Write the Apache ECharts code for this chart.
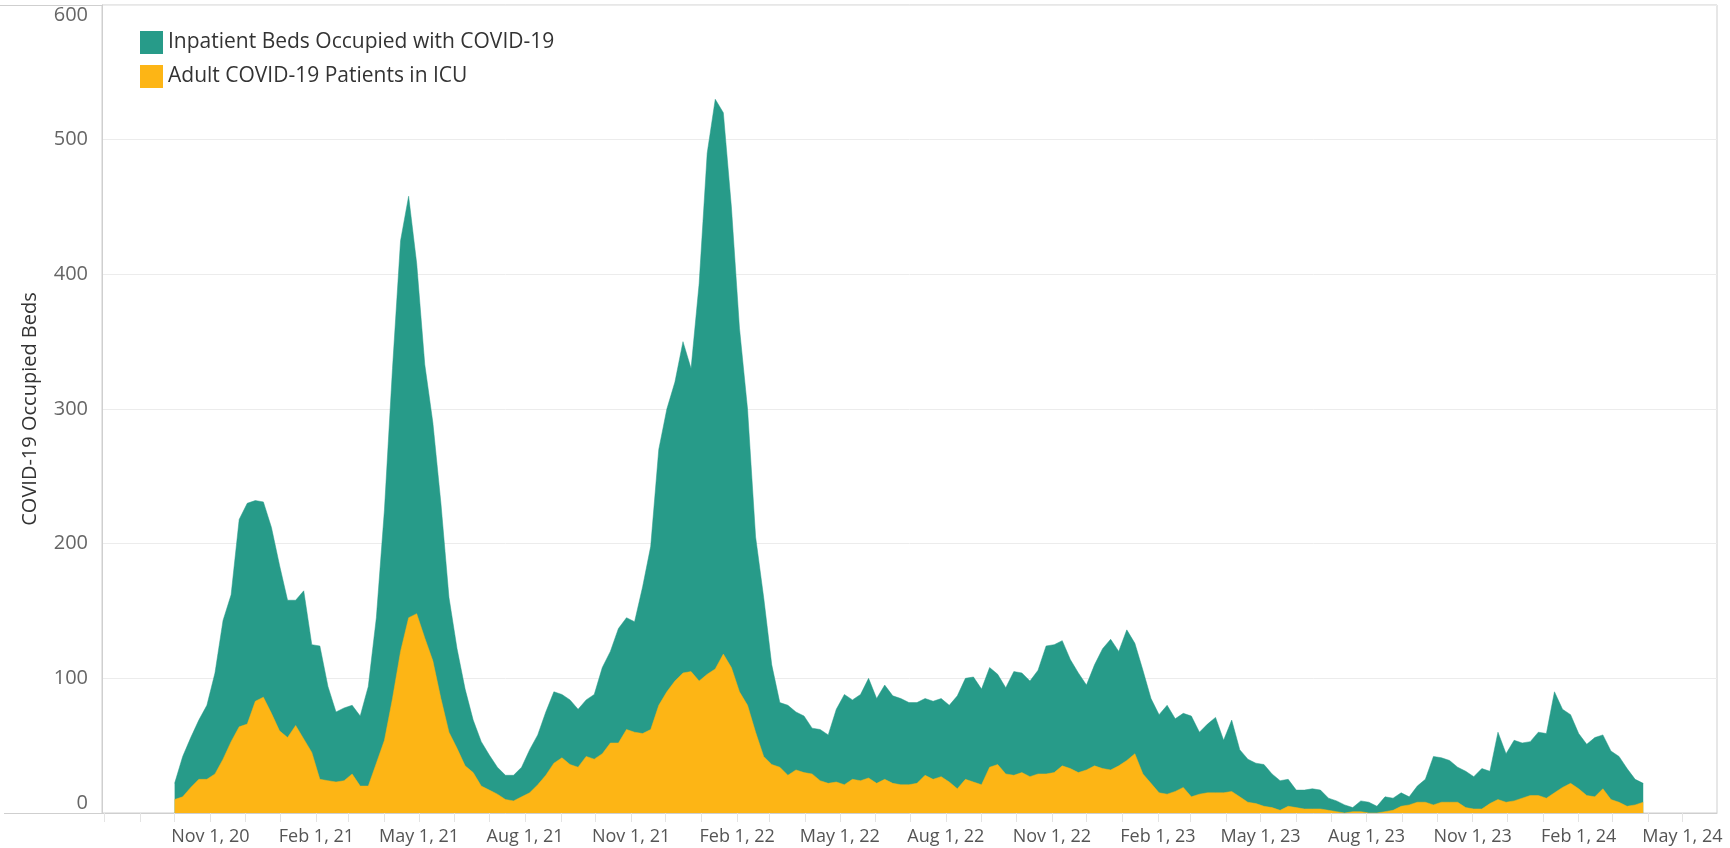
<!DOCTYPE html>
<html>
<head>
<meta charset="utf-8">
<title>COVID-19 Occupied Beds</title>
<script src="https://cdn.jsdelivr.net/npm/echarts@6/dist/echarts.min.js"></script>
<style>
  html, body { margin: 0; padding: 0; background: #fff; }
  #chart { width: 1730px; height: 848px; }
</style>
</head>
<body>
<div id="chart"></div>
<script>
// weekly readings, first one on Oct 1, 2020
var startDate = [2020, 9, 1];
var stepDays = 7;

var seriesNames = ['Inpatient Beds Occupied with COVID-19', 'Adult COVID-19 Patients in ICU'];

var inpatientBeds = [
    22, 42, 56, 69, 80, 104, 143, 162, 218, 230, 232, 231, 212, 184, 158, 158, 165, 125, 124, 94,
    75, 78, 80, 72, 94, 145, 225, 330, 425, 458, 408, 333, 290, 230, 160, 122, 92, 69, 53, 43,
    34, 28, 28, 34, 47, 58, 75, 90, 88, 84, 77, 84, 88, 108, 120, 137, 145, 142, 168, 198,
    270, 300, 320, 350, 330, 393, 490, 530, 520, 450, 360, 300, 205, 160, 110, 82, 80, 75, 72, 63,
    62, 58, 77, 88, 84, 88, 100, 85, 95, 87, 85, 82, 82, 85, 83, 85, 80, 87, 100, 101,
    92, 108, 103, 93, 105, 104, 98, 106, 124, 125, 128, 114, 104, 95, 110, 122, 129, 120, 136, 126,
    106, 85, 73, 80, 70, 74, 72, 60, 66, 71, 54, 69, 47, 40, 37, 36, 29, 24, 25, 17,
    17, 18, 17, 11, 9, 6, 4, 9, 8, 5, 12, 11, 15, 12, 20, 25, 42, 41, 39, 34,
    31, 27, 33, 31, 60, 44, 54, 52, 53, 60, 59, 90, 77, 73, 59, 51, 56, 58, 46, 42,
    33, 25, 22
];

var icuPatients = [
    10, 12, 19, 25, 25, 29, 40, 53, 64, 66, 83, 86, 74, 61, 56, 65, 55, 45, 25, 24,
    23, 24, 29, 20, 20, 37, 54, 85, 120, 145, 148, 130, 113, 85, 60, 48, 35, 30, 20, 17,
    14, 10, 9, 12, 15, 21, 28, 37, 41, 36, 34, 42, 40, 44, 52, 52, 62, 60, 59, 62,
    80, 90, 98, 104, 105, 98, 103, 107, 118, 108, 90, 80, 60, 42, 36, 34, 28, 32, 30, 29,
    24, 22, 23, 21, 25, 24, 26, 22, 25, 22, 21, 21, 22, 28, 25, 27, 23, 18, 25, 23,
    21, 34, 36, 29, 28, 30, 27, 29, 29, 30, 35, 33, 30, 32, 35, 33, 32, 35, 39, 44,
    29, 22, 15, 14, 16, 19, 12, 14, 15, 15, 15, 16, 12, 8, 7, 5, 4, 2, 5, 4,
    3, 3, 3, 2, 1, 0, 1, 1, 0, 0, 1, 2, 5, 6, 8, 8, 6, 8, 8, 8,
    4, 3, 3, 7, 10, 8, 9, 11, 13, 13, 11, 15, 19, 22, 18, 13, 12, 18, 10, 8,
    5, 6, 8
];

var monthNames = ['Jan', 'Feb', 'Mar', 'Apr', 'May', 'Jun', 'Jul', 'Aug', 'Sep', 'Oct', 'Nov', 'Dec'];
var firstLabel = new Date(2020, 10, 1).getTime();

function toPoints(values) {
    return values.map(function (v, i) {
        var d = new Date(startDate[0], startDate[1], startDate[2] + i * stepDays);
        return [d.getTime(), v];
    });
}

var green = '#279B89';
var yellow = '#FDB515';
var font = '"Open Sans", "DejaVu Sans", sans-serif';

var option = {
    animation: false,
    textStyle: { fontFamily: font },
    color: [green, yellow],
    grid: {
        left: 102,
        right: 13,
        top: 5,
        bottom: 35,
        show: true,
        borderColor: '#cfcfcf',
        borderWidth: 1
    },
    legend: {
        orient: 'vertical',
        left: 140,
        top: 31,
        padding: 0,
        icon: 'rect',
        itemWidth: 23,
        itemHeight: 23,
        itemGap: 11,
        selectedMode: false,
        textStyle: { fontSize: 21, color: '#333', fontFamily: font },
        data: seriesNames
    },
    xAxis: {
        type: 'time',
        min: new Date(2020, 6, 30).getTime(),
        max: new Date(2024, 4, 31).getTime(),
        splitNumber: 46,
        minInterval: 28 * 86400000,
        maxInterval: 31 * 86400000,
        axisLine: { show: true, lineStyle: { color: '#cfcfcf', width: 1 } },
        axisTick: { show: true, length: 9, lineStyle: { color: '#e4e4e4' } },
        splitLine: { show: false },
        axisLabel: {
            interval: 0,
            hideOverlap: false,
            showMinLabel: false,
            showMaxLabel: false,
            margin: 15,
            fontSize: 18,
            color: '#555',
            fontFamily: font,
            formatter: function (val) {
                var d = new Date(val);
                if (val < firstLabel || d.getDate() !== 1 || d.getMonth() % 3 !== 1) return '';
                return monthNames[d.getMonth()] + ' 1, ' + String(d.getFullYear()).slice(2);
            }
        }
    },
    yAxis: {
        type: 'value',
        min: 0,
        max: 600,
        interval: 100,
        name: 'COVID-19 Occupied Beds',
        nameLocation: 'middle',
        nameGap: 62,
        nameTextStyle: { fontSize: 20, color: '#333', fontFamily: font },
        axisLine: { show: true, lineStyle: { color: '#cfcfcf', width: 1 } },
        axisTick: { show: false },
        splitLine: { lineStyle: { color: '#ececec', width: 1 } },
        axisLabel: {
            margin: 14,
            fontSize: 20,
            color: '#666',
            fontFamily: font,
            verticalAlignMinLabel: 'bottom',
            verticalAlignMaxLabel: 'top'
        }
    },
    graphic: [
        // frame lines running past the y axis, as in the original
        { type: 'line', silent: true, shape: { x1: 0, y1: 5.5, x2: 102, y2: 5.5 }, style: { stroke: '#cfcfcf', lineWidth: 1 } },
        { type: 'line', silent: true, shape: { x1: 4, y1: 813.5, x2: 102, y2: 813.5 }, style: { stroke: '#cfcfcf', lineWidth: 1 } }
    ],
    series: [
        {
            name: seriesNames[0],
            type: 'line',
            symbol: 'none',
            lineStyle: { width: 0.5, color: green },
            areaStyle: { color: green, opacity: 1 },
            data: toPoints(inpatientBeds)
        },
        {
            name: seriesNames[1],
            type: 'line',
            symbol: 'none',
            lineStyle: { width: 0.5, color: yellow },
            areaStyle: { color: yellow, opacity: 1 },
            data: toPoints(icuPatients)
        }
    ]
};

var myChart = echarts.init(document.getElementById('chart'));
myChart.setOption(option);
</script>
</body>
</html>
